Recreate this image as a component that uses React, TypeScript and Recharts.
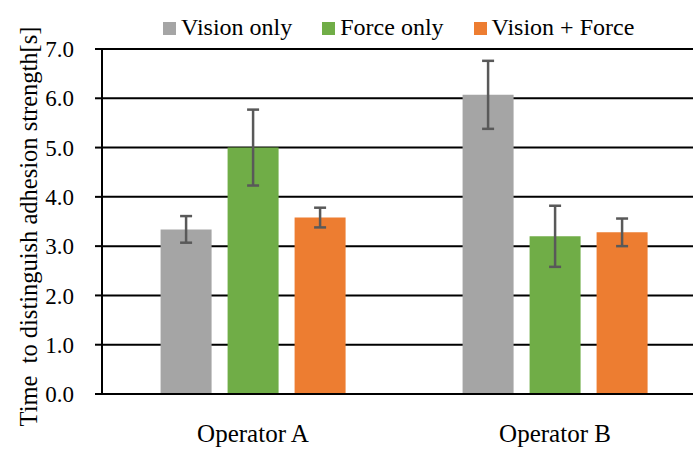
import { BarChart, Bar, XAxis, YAxis, CartesianGrid, ErrorBar, Label } from "recharts";

const categories = ["Operator A", "Operator B"];
const seriesNames = ["Vision only", "Force only", "Vision + Force"];
const seriesColors = ["#A5A5A5", "#70AD47", "#ED7D31"];
const visionOnly = [3.34, 6.07];
const visionOnlyErr = [0.27, 0.69];
const forceOnly = [5.0, 3.2];
const forceOnlyErr = [0.77, 0.62];
const visionForce = [3.58, 3.28];
const visionForceErr = [0.2, 0.28];
const yTicks = [0, 1, 2, 3, 4, 5, 6, 7];
const yTitle = "Time  to distinguish adhesion strength[s]";

const FONT = "Liberation Serif, DejaVu Serif, Times New Roman, serif";

const data = categories.map((name, i) => ({
  name,
  s0: visionOnly[i],
  e0: visionOnlyErr[i],
  s1: forceOnly[i],
  e1: forceOnlyErr[i],
  s2: visionForce[i],
  e2: visionForceErr[i],
}));

// rotated axis title, drawn at fixed offset from the y axis box
const YTitle = (props: any) => {
  const vb = props.viewBox || { x: 0, y: 0, width: 0, height: 0 };
  const cx = 28;
  const cy = vb.y + vb.height / 2 + 5;
  return (
    <text
      x={cx}
      y={cy}
      transform={`rotate(-90 ${cx} ${cy})`}
      textAnchor="middle"
      dominantBaseline="central"
      style={{ whiteSpace: "pre", fontFamily: FONT, fontSize: 24.5, fill: "#000" }}
    >
      {yTitle}
    </text>
  );
};

const App = () => {
  return (
    <div style={{ position: "absolute", left: 0, top: 0, width: 693, height: 455, overflow: "hidden", background: "#fff" }}>
      <div
        style={{
          position: "absolute",
          left: 163,
          top: 14,
          display: "flex",
          alignItems: "center",
          fontFamily: FONT,
          fontSize: 24,
          lineHeight: "27px",
          color: "#000",
          zIndex: 2,
        }}
      >
        {seriesNames.map((n, i) => (
          <div key={n} style={{ display: "flex", alignItems: "center", marginRight: 30 }}>
            <span style={{ width: 13, height: 13, background: seriesColors[i], display: "inline-block", marginRight: 5, marginTop: 1 }} />
            <span>{n}</span>
          </div>
        ))}
      </div>
      <BarChart
        width={706}
        height={455}
        data={data}
        margin={{ top: 49, right: 0, bottom: 0, left: 0 }}
        barCategoryGap="19.4%"
        barGap={16}
      >
        <CartesianGrid vertical={false} stroke="#000" strokeWidth={2} />
        <XAxis
          dataKey="name"
          height={61}
          tickLine={false}
          tickSize={0}
          tickMargin={30}
          axisLine={{ stroke: "#000", strokeWidth: 2 }}
          tick={{ fill: "#000", style: { fontFamily: FONT }, fontSize: 25 }}
        />
        <YAxis
          width={102}
          domain={[0, 7]}
          ticks={yTicks}
          interval={0}
          tickFormatter={(v: number) => v.toFixed(1)}
          tickSize={7}
          tickMargin={21}
          tickLine={{ stroke: "#000", strokeWidth: 2 }}
          axisLine={{ stroke: "#000", strokeWidth: 2 }}
          tick={{ fill: "#000", style: { fontFamily: FONT }, fontSize: 23 }}
        >
          <Label content={YTitle} />
        </YAxis>
        {seriesNames.map((n, i) => (
          <Bar key={n} dataKey={`s${i}`} name={n} fill={seriesColors[i]} isAnimationActive={false}>
            <ErrorBar dataKey={`e${i}`} width={6} stroke="#595959" strokeWidth={2.5} direction="y" isAnimationActive={false} />
          </Bar>
        ))}
      </BarChart>
    </div>
  );
};

export default App;
